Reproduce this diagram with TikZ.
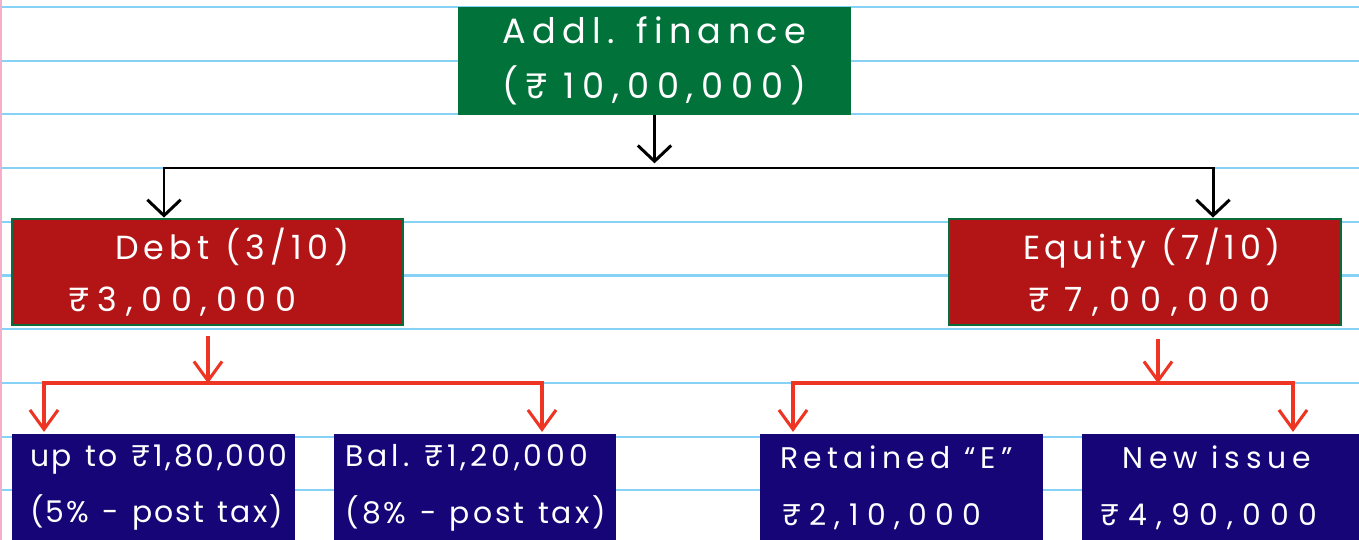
\documentclass[tikz,border=0pt]{standalone}
\usepackage{fontspec}
\setmainfont{Poppins}
\newfontfamily\hand[LetterSpace=6]{Poppins}
\newcommand\lsp[2]{{\addfontfeature{LetterSpace=#1}\spaceskip=0.45em plus 0.1em\relax #2}}
\usetikzlibrary{arrows.meta,calc}
\definecolor{ruleblue}{HTML}{86D2F6}
\definecolor{marginpink}{HTML}{F7AECB}
\definecolor{topgreen}{HTML}{02723B}
\definecolor{boxred}{HTML}{B31517}
\definecolor{boxedge}{HTML}{0C6B3C}
\definecolor{boxblue}{HTML}{150577}
\definecolor{linkred}{HTML}{EE3423}
\tikzset{
  ruling/.style={draw=ruleblue, line width=1.2pt},
  margin/.style={draw=marginpink, line width=1.2pt},
  greenbox/.style={fill=topgreen, draw=none, text=white, inner sep=0pt,
    minimum width=7.86cm, minimum height=2.16cm, align=center,
    font=\hand\fontsize{20}{31.7}\selectfont},
  redbox/.style={fill=boxred, draw=boxedge, line width=1.6pt, text=white, inner sep=0pt,
    minimum height=2.12cm, align=left,
    font=\hand\fontsize{19}{29.5}\selectfont},
  bluebox/.style={fill=boxblue, draw=none, text=white, inner sep=0pt,
    minimum height=2.14cm, align=left, text width=5.66cm,
    font=\hand\fontsize{17}{32.3}\selectfont},
  blkarrow/.style={draw=black, line width=1.7pt, line join=miter,
    arrows={-Straight Barb[length=9pt,width=19pt]}},
  blkboth/.style={draw=black, line width=1.7pt, line join=miter,
    arrows={Straight Barb[length=9pt,width=19pt]-Straight Barb[length=9pt,width=19pt]}},
  redarrow/.style={draw=linkred, line width=1.75pt, line join=miter,
    arrows={-Straight Barb[length=11pt,width=16pt]}},
  redboth/.style={draw=linkred, line width=1.75pt, line join=miter,
    arrows={Straight Barb[length=11pt,width=16pt]-Straight Barb[length=11pt,width=16pt]}},
}
\begin{document}
\begin{tikzpicture}[x=0.02cm,y=-0.02cm]
\useasboundingbox (0,0) rectangle (1359,540);
\clip (0,0) rectangle (1359,540);
\fill[white] (0,0) rectangle (1359,540);
\foreach \k in {0,...,9} {
  \draw[ruling] (0,{7+53.7*\k}) -- (1359,{7+53.7*\k});
}
\draw[margin] (1,0) -- (1,540);

% boxes
\node[greenbox] (top) at (654.5,61)
  {\lsp{18}{Addl. finance}\\\lsp{22}{(₹ 10,00,000)}};
\node[redbox, minimum width=7.82cm, text width=7.82cm] (debt) at (207.5,272)
  {\hspace*{2.06cm}\lsp{16}{Debt (3/10)}\\\hspace*{1.12cm}\lsp{26}{₹3,00,000}};
\node[redbox, minimum width=7.84cm, text width=7.84cm] (equity) at (1145,272)
  {\hspace*{1.48cm}\lsp{14}{Equity (7/10)}\\\hspace*{1.58cm}\lsp{30}{₹ 7,00,000}};
\node[bluebox] (b1) at (153.5,487.5)
  {\hspace*{0.36cm}\lsp{9}{up to ₹1,80,000}\\\hspace*{0.36cm}\lsp{7}{(5\% - post tax)}};
\node[bluebox] (b2) at (475,487.5)
  {\hspace*{0.24cm}\lsp{13}{Bal. ₹1,20,000}\\\hspace*{0.24cm}\lsp{10}{(8\% - post tax)}};
\node[bluebox] (b3) at (901.5,487.5)
  {\hspace*{0.4cm}\lsp{18}{Retained “E”}\\\hspace*{0.44cm}\lsp{28}{₹2,10,000}};
\node[bluebox] (b4) at (1223.5,487.5)
  {\hspace*{0.8cm}\lsp{20}{New issue}\\\hspace*{0.36cm}\lsp{31}{₹4,90,000}};

% black connectors
\coordinate (tm) at ($(top.south)+(0,48)$);
\coordinate (hl) at (164,168);
\coordinate (hr) at (1213,168);
\draw[blkarrow] (top.south) -- (tm);
\draw[blkboth] (hl |- debt.north) -- (hl) -- (hr) -- (hr |- equity.north);

% red connectors, debt side
\coordinate (ds) at ($(debt.south)+(0.5,10)$);
\coordinate (dm) at ($(debt.south)+(0.5,57)$);
\coordinate (dl) at (44,383);
\coordinate (dr) at (542,383);
\draw[redarrow] (ds) -- (dm);
\draw[redboth] ([yshift=1pt]dl |- b1.north) -- (dl) -- (dr) -- ([yshift=1pt]dr |- b2.north);

% red connectors, equity side
\coordinate (es) at ($(equity.south)+(13,13)$);
\coordinate (em) at ($(equity.south)+(13,57)$);
\coordinate (el) at (793,383);
\coordinate (er) at (1293,383);
\draw[redarrow] (es) -- (em);
\draw[redboth] ([yshift=1pt]el |- b3.north) -- (el) -- (er) -- ([yshift=1pt]er |- b4.north);
\end{tikzpicture}
\end{document}
